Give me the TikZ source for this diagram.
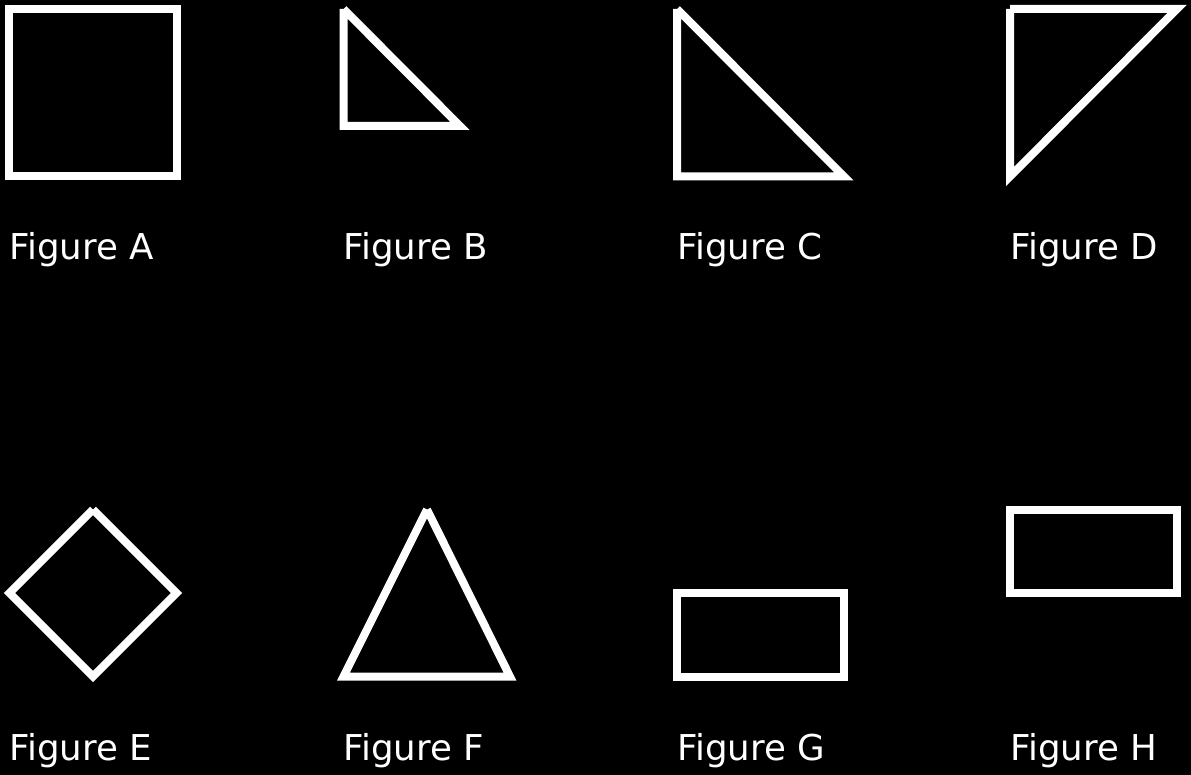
\documentclass[tikz,border=0pt]{standalone}
\usepackage{fontspec}
\setmainfont{DejaVu Sans}
\begin{document}
\begin{tikzpicture}[x=1pt,y=-1pt,
  outl/.style={draw=white,line width=8pt,miter limit=10},
  lbl/.style={anchor=base west,inner sep=0pt,text=white,font=\fontsize{35.6}{40}\selectfont}]
\fill[black] (0,0) rectangle (1191,775);
\useasboundingbox (0,0) rectangle (1191,775);
% row 1
\draw[outl] (9,9) rectangle (176.5,176.5);
\draw[outl] (343.5,9) -- (343.5,126) -- (460,126) -- (343.5,9);
\draw[outl] (677,9) -- (677,176.5) -- (844,176.5) -- (677,9);
\draw[outl] (1010,9) -- (1177,9) -- (1010,176.5) -- (1010,9);
\node[lbl] (la) at (9,260) {Figure A};
\node[lbl] (lb) at (343,260) {Figure B};
\node[lbl] (lc) at (677,260) {Figure C};
\node[lbl] (ld) at (1010,260) {Figure D};
% row 2
\draw[outl] (93,509.5) -- (9.5,593) -- (93,676.5) -- (176.5,593) -- (93,509.5);
\draw[outl] (427,509.5) -- (343.5,676.5) -- (510,676.5) -- (427,509.5);
\draw[outl] (677,593) rectangle (843.5,676.5);
\draw[outl] (1010,509.5) rectangle (1177,593);
\node[lbl] (le) at (9,760) {Figure E};
\node[lbl] (lf) at (343,760) {Figure F};
\node[lbl] (lg) at (677,760) {Figure G};
\node[lbl] (lh) at (1010,760) {Figure H};
\end{tikzpicture}
\end{document}
